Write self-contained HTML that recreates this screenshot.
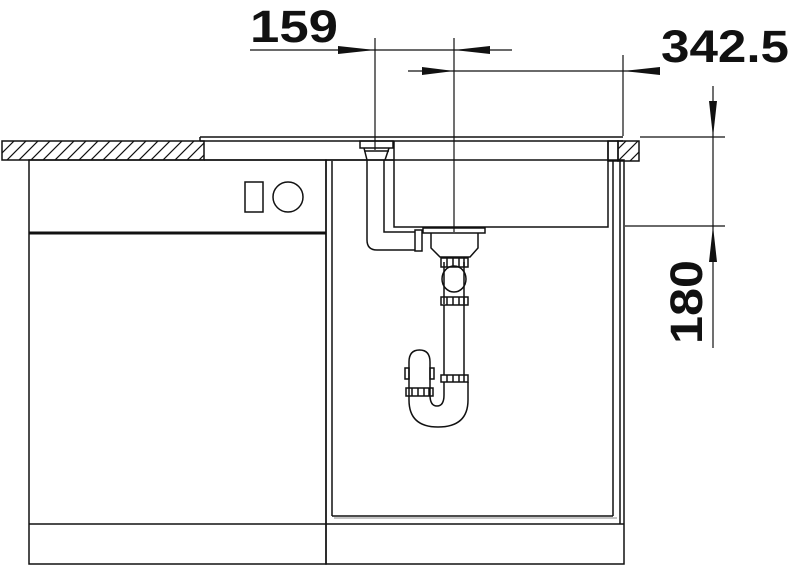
<!DOCTYPE html>
<html><head><style>html,body{margin:0;padding:0;background:#fff}svg{display:block}</style></head>
<body>
<svg width="800" height="566" viewBox="0 0 800 566" xmlns="http://www.w3.org/2000/svg">
<defs>
<pattern id="h" width="12" height="12" patternUnits="userSpaceOnUse" patternTransform="translate(2,141)">
<path d="M-3,15 L15,-3 M-3,3 L3,-3 M9,15 L15,9" stroke="#111" stroke-width="1.2"/>
</pattern>
</defs>
<g fill="none" stroke="#111" stroke-width="1.5">
<!-- countertop -->
<rect x="2" y="141" width="202" height="19" fill="url(#h)"/>
<line x1="200" y1="137" x2="623" y2="137"/>
<line x1="200" y1="141" x2="623" y2="141"/>
<line x1="200" y1="137" x2="200" y2="141"/>
<line x1="204" y1="160" x2="394" y2="160"/>
<rect x="608" y="141" width="10" height="20"/>
<rect x="618" y="141" width="21" height="20" fill="url(#h)"/>
<!-- left cabinet -->
<rect x="29" y="160" width="297" height="404"/>
<line x1="29" y1="233" x2="326" y2="233" stroke-width="3"/>
<line x1="29" y1="524" x2="326" y2="524"/>
<rect x="245" y="182" width="18" height="30"/>
<circle cx="288" cy="197" r="15"/>
<!-- sink cabinet -->
<rect x="326" y="160" width="298" height="404"/>
<line x1="332" y1="161" x2="332" y2="516"/>
<line x1="613" y1="161" x2="613" y2="516"/>
<line x1="332" y1="516" x2="613" y2="516"/>
<line x1="334" y1="518" x2="617" y2="518" stroke-width="1" stroke="#888"/>
<line x1="326" y1="524" x2="624" y2="524"/>
<line x1="620" y1="161" x2="620" y2="524"/>
<!-- bowl -->
<path d="M394,141 V227 H608 V141"/>
<!-- overflow -->
<rect x="360" y="141" width="33" height="7"/>
<path d="M364,148 L367,160 M389,148 L385,160 M364,151 H389"/>
<path d="M367,160 V240 Q367,250 377,250 H415 M384,160 V232 H415"/>
<rect x="415" y="230" width="7" height="21"/>
<!-- drain -->
<rect x="423" y="228" width="62" height="5"/>
<path d="M431,233 V248 L440,257 H470 L478,248 V233"/>
<!-- trap -->
<rect x="441" y="258" width="27" height="9" fill="#fff"/>
<path d="M444,262 V304 M464,262 V304" />
<ellipse cx="454" cy="279" rx="12" ry="13"/>
<rect x="441" y="297" width="27" height="8"/>
<path d="M444,305 V375 M464,305 V375"/>
<rect x="441" y="375" width="27" height="7"/>
<path d="M444,382 V395 Q444,406 437,406 Q430,406 430,395 V362 Q430,350 419.5,350 Q409,350 409,362 V400 Q409,427 438,427 Q468,427 468,400 V382"/>
<rect x="406" y="388" width="27" height="8"/>
<rect x="405" y="368" width="4" height="11"/>
<rect x="430" y="368" width="4" height="11"/>
</g>
<!-- nut ticks -->
<g stroke="#111" stroke-width="1.5">
<path d="M447,258V267M453,258V267M459,258V267M464,258V267M447,297V305M453,297V305M459,297V305M464,297V305M447,375V382M453,375V382M459,375V382M464,375V382M412,388V396M418,388V396M424,388V396M429,388V396"/>
</g>
<!-- dimensions -->
<g stroke="#111" stroke-width="1.2" fill="none">
<line x1="375" y1="38" x2="375" y2="150"/>
<line x1="454" y1="38" x2="454" y2="232"/>
<line x1="250" y1="50" x2="512" y2="50"/>
<line x1="408" y1="71" x2="660" y2="71"/>
<line x1="623" y1="55" x2="623" y2="136"/>
<line x1="640" y1="137" x2="725" y2="137"/>
<line x1="625" y1="226" x2="725" y2="226"/>
<line x1="713" y1="86" x2="713" y2="348"/>
</g>
<g fill="#111">
<polygon points="338,46 375,50 338,54"/>
<polygon points="490,46 454,50 490,54"/>
<polygon points="422,67 454,71 422,75"/>
<polygon points="660,67 623,71 660,75"/>
<polygon points="709,101 713,137 717,101"/>
<polygon points="709,262 713,226 717,262"/>
</g>
<g font-family="Liberation Sans, sans-serif" font-weight="bold" fill="#111">
<text x="250" y="42" font-size="45" textLength="88" lengthAdjust="spacingAndGlyphs">159</text>
<text x="661" y="62" font-size="45" textLength="128" lengthAdjust="spacingAndGlyphs">342.5</text>
<text transform="translate(702,344) rotate(-90)" font-size="45" textLength="84" lengthAdjust="spacingAndGlyphs">180</text>
</g>
</svg>
</body></html>
